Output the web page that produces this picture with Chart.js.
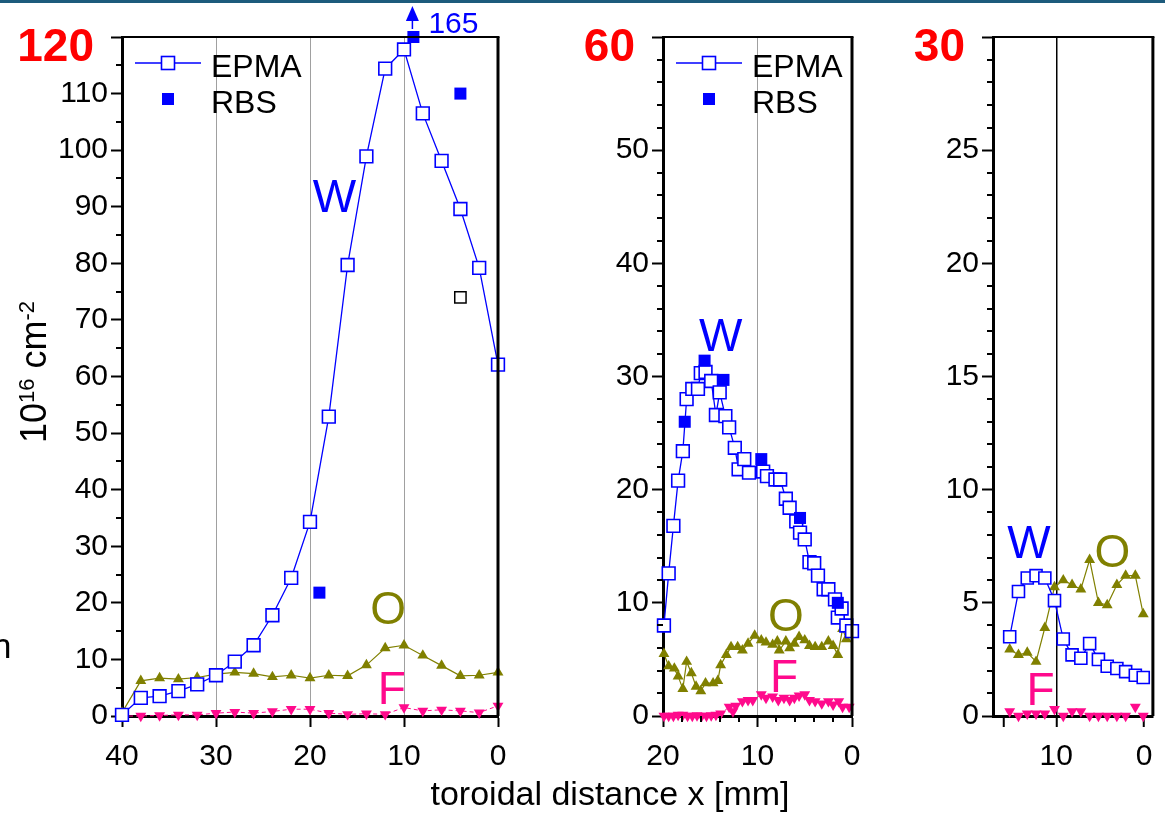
<!DOCTYPE html>
<html lang="en">
<head>
<meta charset="utf-8">
<title>W, O and F areal density vs toroidal distance</title>
<script src="https://cdn.jsdelivr.net/npm/chart.js@4.4.1/dist/chart.umd.min.js"></script>
<style>
  html, body { margin: 0; padding: 0; background: #fff; }
  body { width: 1165px; height: 815px; position: relative; overflow: hidden;
         font-family: 'Liberation Sans', Arial, Helvetica, sans-serif; }
  .topbar { position: absolute; left: 0; top: 0; width: 1165px; height: 3px; background: #1d5b7c; }
  canvas { position: absolute; top: 0; }
  #p1 { left: 0; }
  #p2 { left: 560px; }
  #p3 { left: 880px; }
  .xtitle { position: absolute; left: 210px; width: 800px; top: 776px; line-height: 34px;
            font-size: 34px; text-align: center; color: #000; }
  .edge { position: absolute; left: -8px; top: 628px; font-size: 35px; line-height: 35px; color: #000; }
</style>
</head>
<body>
<div class="topbar"></div>
<canvas id="p1" width="540" height="815"></canvas>
<canvas id="p2" width="320" height="815"></canvas>
<canvas id="p3" width="285" height="815"></canvas>
<div class="xtitle">toroidal distance x [mm]</div>
<div class="edge">n</div>
<script>
// ===== DATA (x in mm, densities in 1e16 cm^-2) =====

// left panel, 0-40 mm
const p1X    = [40, 38, 36, 34, 32, 30, 28, 26, 24, 22, 20, 18, 16, 14, 12, 10, 8, 6, 4, 2, 0];
const p1W    = [0.2, 3.2, 3.5, 4.4, 5.6, 7.2, 9.6, 12.5, 17.8, 24.4, 34.3, 52.9, 79.7, 98.9, 114.4, 117.8, 106.5, 98.1, 89.6, 79.2, 62.1];
const p1O    = [0.6, 6.2, 6.7, 6.5, 6.8, 7.4, 7.7, 7.5, 6.9, 7.2, 6.7, 7.2, 7.1, 9.0, 12.0, 12.5, 10.7, 8.9, 7.1, 7.2, 7.7];
const p1F    = [0, 0, 0.1, 0.2, 0.2, 0.5, 0.7, 0.5, 0.8, 1.2, 1.2, 0.5, 0.3, 0.4, 0.3, 1.5, 0.9, 1.1, 0.9, 0.6, 1.8];
const p1RbsX = [19, 9, 4];
const p1Rbs  = [21.8, 165, 110];
const p1RefX = [4];
const p1Ref  = [74];

// middle panel, 0-20 mm
const p2WX   = [19.9, 19.4, 18.9, 18.4, 17.9, 17.5, 16.9, 16.3, 16.0, 15.5, 14.9, 14.4, 14.0, 13.4, 13.0, 12.4, 12.0, 11.4, 10.9, 9.4, 9.0, 8.1, 7.6, 7.0, 6.6, 5.9, 5.5, 5.0, 4.5, 4.0, 3.6, 3.0, 2.5, 1.8, 1.5, 1.1, 0.6, 0.0];
const p2W    = [8.0, 12.6, 16.8, 20.8, 23.4, 28.0, 28.9, 28.9, 30.3, 30.4, 29.6, 26.6, 28.6, 26.5, 25.5, 23.7, 21.8, 22.7, 21.5, 21.6, 21.2, 20.9, 20.9, 19.2, 18.4, 17.2, 16.2, 15.6, 13.6, 13.5, 12.4, 11.2, 11.2, 10.3, 8.7, 9.5, 8.0, 7.5];
const p2OX   = [19.9, 19.4, 18.8, 18.4, 17.9, 17.5, 17.0, 16.5, 16.0, 15.5, 14.7, 14.2, 13.9, 13.3, 12.8, 12.1, 11.6, 11.0, 10.3, 9.6, 9.1, 8.4, 7.9, 7.7, 7.0, 6.6, 6.1, 5.6, 5.0, 4.5, 3.9, 3.2, 2.5, 2.0, 1.5, 1.0, 0.6, 0.0];
const p2O    = [5.5, 4.4, 4.2, 3.5, 2.4, 4.8, 3.8, 2.6, 2.2, 2.9, 2.9, 3.1, 4.5, 5.4, 6.1, 6.1, 5.8, 6.4, 7.1, 6.7, 6.5, 6.3, 6.6, 5.8, 6.6, 6.0, 6.4, 7.0, 6.7, 6.2, 6.1, 6.1, 6.6, 6.2, 5.4, 7.7, 6.8, 7.2];
const p2FX   = [19.9, 19.4, 18.9, 18.4, 17.9, 17.4, 16.9, 16.4, 15.9, 15.4, 14.9, 14.4, 13.9, 13.0, 12.6, 12.3, 11.6, 11.0, 10.5, 9.6, 9.1, 8.4, 7.8, 7.2, 6.6, 6.1, 5.6, 5.0, 4.5, 3.9, 3.2, 2.5, 2.0, 1.4, 1.0, 0.3];
const p2F    = [0, 0, 0, 0.1, 0.1, 0, 0, 0.05, 0, 0, 0.05, 0.1, 0.2, 0.8, 0.4, 0.9, 1.3, 1.4, 1.4, 1.9, 1.6, 1.7, 1.4, 1.6, 1.4, 1.6, 1.8, 1.9, 1.4, 1.3, 1.1, 1.3, 1.0, 1.3, 0.8, 0.8];
const p2RbsX = [17.7, 15.6, 13.6, 9.6, 5.5, 1.5];
const p2Rbs  = [26.0, 31.4, 29.7, 22.7, 17.5, 10.0];

// right panel, 0-17 mm
const p3X    = [15.3, 14.3, 13.3, 12.3, 11.3, 10.2, 9.2, 8.2, 7.2, 6.2, 5.2, 4.2, 3.1, 2.1, 1.0, 0.1];
const p3W    = [3.5, 5.5, 6.1, 6.2, 6.1, 5.1, 3.4, 2.7, 2.55, 3.2, 2.5, 2.2, 2.1, 1.96, 1.8, 1.7];
const p3O    = [2.95, 2.7, 2.8, 2.4, 3.9, 5.7, 6.0, 5.8, 5.6, 6.9, 5.0, 4.9, 5.8, 6.2, 6.2, 4.5];
const p3F    = [0.2, 0, 0.1, 0.1, 0.1, 0.3, 0, 0.2, 0.2, 0, 0, 0, 0, 0, 0.4, 0];

// ===== STYLE =====
const FONT = "'Liberation Sans', Arial, Helvetica, sans-serif";
const BLUE = '#0000ff', OLIVE = '#808000', PINK = '#ff0a8c', RED = '#ff0000';
const TICK_SIZE = 30;
Chart.defaults.font.family = FONT;
Chart.defaults.animation = false;

const pts = (xs, ys, cap) => xs.map((x, i) => ({ x, y: cap === undefined ? ys[i] : Math.min(ys[i], cap) }));

function epmaSet(xs, ys, r) {
  return { data: pts(xs, ys), showLine: true, borderColor: BLUE, borderWidth: 1.3,
           pointStyle: 'rect', pointRadius: r, pointBorderWidth: 1.6,
           pointBackgroundColor: '#fff', pointBorderColor: BLUE, clip: false };
}
function rbsSet(xs, ys, cap) {
  return { data: pts(xs, ys, cap), showLine: false, pointStyle: 'rect', pointRadius: 8.5,
           pointBorderWidth: 0, pointBackgroundColor: BLUE, pointBorderColor: BLUE, clip: false };
}
function oSet(xs, ys) {
  return { data: pts(xs, ys), showLine: true, borderColor: OLIVE, borderWidth: 1.2,
           pointStyle: 'triangle', pointRadius: 6.3, pointBorderWidth: 0,
           pointBackgroundColor: OLIVE, clip: false };
}
function fSet(xs, ys, line) {
  return { data: pts(xs, ys), showLine: line, borderColor: PINK, borderWidth: 1, borderDash: [4, 3],
           pointStyle: 'triangle', pointRotation: 180, pointRadius: 6.3, pointBorderWidth: 0,
           pointBackgroundColor: PINK, clip: false };
}

// ===== DECORATIONS: frame, minor ticks, legend, tags, titles =====
function drawRich(ctx, parts, x, y) {
  // parts: [text, size, raise]
  let cx = x;
  parts.forEach(([t, size, raise]) => {
    ctx.font = size + 'px ' + FONT;
    ctx.fillText(t, cx, y - raise);
    cx += ctx.measureText(t).width;
  });
  return cx - x;
}

const decor = {
  id: 'decor',
  afterDraw(chart, args, o) {
    const { ctx, chartArea: a, scales: { x, y } } = chart;
    ctx.save();

    // top and right frame
    ctx.strokeStyle = '#000';
    ctx.lineWidth = 2;
    ctx.beginPath();
    ctx.moveTo(a.left, a.top); ctx.lineTo(a.right + 1.5, a.top);
    ctx.stroke();
    ctx.lineWidth = 3;
    ctx.beginPath();
    ctx.moveTo(a.right, a.top); ctx.lineTo(a.right, a.bottom);
    ctx.stroke();

    // minor ticks
    ctx.lineWidth = 2;
    ctx.beginPath();
    if (o.yMinor) {
      for (let v = y.min; v <= y.max + 1e-9; v += o.yMinor) {
        const k = v / o.yMajor;
        if (Math.abs(k - Math.round(k)) < 1e-6) continue;
        const py = Math.round(y.getPixelForValue(v));
        ctx.moveTo(a.left - 6, py); ctx.lineTo(a.left, py);
      }
    }
    if (o.xMinor) {
      for (let v = 0; v <= x.max + 1e-9; v += o.xMinor) {
        const k = v / o.xMajor;
        if (Math.abs(k - Math.round(k)) < 1e-6) continue;
        const px = Math.round(x.getPixelForValue(v));
        ctx.moveTo(px, a.bottom); ctx.lineTo(px, a.bottom + 6);
      }
    }
    ctx.stroke();

    // axis maximum in red
    ctx.fillStyle = RED;
    ctx.font = 'bold 46px ' + FONT;
    ctx.textAlign = 'right';
    ctx.textBaseline = 'alphabetic';
    ctx.fillText(String(y.max), a.left - 28, 61);

    // element tags
    ctx.textAlign = 'center';
    (o.tags || []).forEach(t => {
      ctx.fillStyle = t.color;
      ctx.font = '46px ' + FONT;
      ctx.fillText(t.text, x.getPixelForValue(t.x), y.getPixelForValue(t.y) + 0.36 * 46);
    });

    // legend
    if (o.legend) {
      const L = a.left, T = a.top;
      ctx.strokeStyle = BLUE;
      ctx.lineWidth = 1.3;
      ctx.beginPath();
      ctx.moveTo(L + 13, T + 26); ctx.lineTo(L + 79, T + 26);
      ctx.stroke();
      ctx.fillStyle = '#fff';
      ctx.lineWidth = 1.6;
      ctx.fillRect(L + 39.5, T + 19.5, 13, 13);
      ctx.strokeRect(L + 39.5, T + 19.5, 13, 13);
      ctx.fillStyle = BLUE;
      ctx.fillRect(L + 40, T + 56, 12, 12);
      ctx.fillStyle = '#000';
      ctx.textAlign = 'left';
      ctx.font = '32px ' + FONT;
      ctx.fillText('EPMA', L + 89, T + 40);
      ctx.fillText('RBS', L + 89, T + 76);
    }

    // off-scale values: arrow and number above the frame
    if (o.offScale) {
      const { xs, ys } = o.offScale;
      xs.forEach((xv, i) => {
        if (ys[i] <= y.max) return;
        const px = x.getPixelForValue(xv);
        ctx.strokeStyle = BLUE;
        ctx.fillStyle = BLUE;
        ctx.lineWidth = 1.5;
        ctx.beginPath();
        ctx.moveTo(px - 1, a.top - 8); ctx.lineTo(px - 1, a.top - 17);
        ctx.stroke();
        ctx.beginPath();
        ctx.moveTo(px - 1, a.top - 31);
        ctx.lineTo(px - 7.5, a.top - 16);
        ctx.lineTo(px + 5.5, a.top - 16);
        ctx.closePath();
        ctx.fill();
        ctx.textAlign = 'left';
        ctx.font = '30px ' + FONT;
        ctx.fillText(String(ys[i]), px + 15, a.top - 4);
      });
    }

    // y axis title, rotated
    if (o.yTitle) {
      ctx.fillStyle = '#000';
      ctx.textAlign = 'left';
      const parts = [['10', 36, 0], ['16', 22, 12], [' cm', 36, 0], ['-2', 22, 12]];
      ctx.translate(46, 372);
      ctx.rotate(-Math.PI / 2);
      ctx.globalAlpha = 0;
      const w = drawRich(ctx, parts, 0, 0);
      ctx.globalAlpha = 1;
      drawRich(ctx, parts, -w / 2, 0);
    }
    ctx.restore();
  }
};

// ===== SCALES =====
function makeScales(c) {
  return {
    x: {
      type: 'linear', reverse: true, min: c.xMin, max: c.xMax,
      afterFit: s => { s.height = 99; },
      afterBuildTicks: s => { s.ticks = c.xTicks.map(v => ({ value: v })); },
      ticks: { autoSkip: false, maxRotation: 0, padding: 12, color: '#000', font: { size: TICK_SIZE },
               callback: v => c.xLabels.includes(v) ? String(v) : '' },
      grid: { color: g => g.tick && c.xGrid.includes(g.tick.value) ? c.gridColor : 'rgba(0,0,0,0)',
              lineWidth: c.gridWidth, tickColor: '#000', tickWidth: 2, tickLength: 11 },
      border: { color: '#000', width: 3 }
    },
    y: {
      type: 'linear', min: 0, max: c.yMax,
      afterFit: s => { s.width = c.yWidth; },
      ticks: { stepSize: c.yStep, autoSkip: false, padding: 3, color: '#000', font: { size: TICK_SIZE },
               callback: v => v === c.yMax ? '' : String(v) },
      grid: { drawOnChartArea: false, tickColor: '#000', tickWidth: 2, tickLength: 11 },
      border: { color: '#000', width: 3 }
    }
  };
}

function makeChart(id, datasets, sc, pad, deco) {
  return new Chart(document.getElementById(id), {
    type: 'scatter',
    data: { datasets },
    options: {
      responsive: false,
      animation: false,
      layout: { padding: { top: 37, right: pad, left: 0, bottom: 0 } },
      scales: makeScales(sc),
      plugins: { legend: { display: false }, tooltip: { enabled: false }, decor: deco }
    },
    plugins: [decor]
  });
}

// ===== LEFT PANEL =====
makeChart('p1', [
  rbsSet(p1RbsX, p1Rbs, 120),
  { data: pts(p1RefX, p1Ref), showLine: false, pointStyle: 'rect', pointRadius: 8, pointBorderWidth: 1.5,
    pointBackgroundColor: '#fff', pointBorderColor: '#000', clip: false },
  epmaSet(p1X, p1W, 9),
  oSet(p1X, p1O),
  fSet(p1X, p1F, true)
], { xMin: 0, xMax: 40, xTicks: [40, 30, 20, 10, 0], xLabels: [40, 30, 20, 10, 0], xGrid: [30, 20, 10],
     gridColor: '#a0a0a0', gridWidth: 1, yMax: 120, yStep: 10, yWidth: 122 }, 42,
{ yMinor: 5, yMajor: 10, legend: true, yTitle: true,
  offScale: { xs: p1RbsX, ys: p1Rbs },
  tags: [{ text: 'W', x: 17.4, y: 92, color: BLUE },
         { text: 'O', x: 11.7, y: 19.2, color: OLIVE },
         { text: 'F', x: 11.3, y: 5.0, color: PINK }] });

// ===== MIDDLE PANEL =====
makeChart('p2', [
  rbsSet(p2RbsX, p2Rbs),
  epmaSet(p2WX, p2W, 9),
  oSet(p2OX, p2O),
  fSet(p2FX, p2F, true)
], { xMin: 0, xMax: 20, xTicks: [20, 10, 0], xLabels: [20, 10, 0], xGrid: [10],
     gridColor: '#a0a0a0', gridWidth: 1, yMax: 60, yStep: 10, yWidth: 103 }, 28,
{ yMinor: 2, yMajor: 10, xMinor: 2, xMajor: 10, legend: true,
  tags: [{ text: 'W', x: 13.9, y: 33.7, color: BLUE },
         { text: 'O', x: 7.0, y: 9.0, color: OLIVE },
         { text: 'F', x: 7.2, y: 3.6, color: PINK }] });

// ===== RIGHT PANEL =====
makeChart('p3', [
  epmaSet(p3X, p3W, 8.5),
  oSet(p3X, p3O),
  fSet(p3X, p3F, false)
], { xMin: -1, xMax: 17.2, xTicks: [16, 10, 0], xLabels: [10, 0], xGrid: [10],
     gridColor: '#000', gridWidth: 1.5, yMax: 30, yStep: 5, yWidth: 113 }, 3,
{ yMinor: 1, yMajor: 5,
  tags: [{ text: 'W', x: 13.1, y: 7.7, color: BLUE },
         { text: 'O', x: 3.6, y: 7.3, color: OLIVE },
         { text: 'F', x: 11.8, y: 1.2, color: PINK }] });
</script>
</body>
</html>
